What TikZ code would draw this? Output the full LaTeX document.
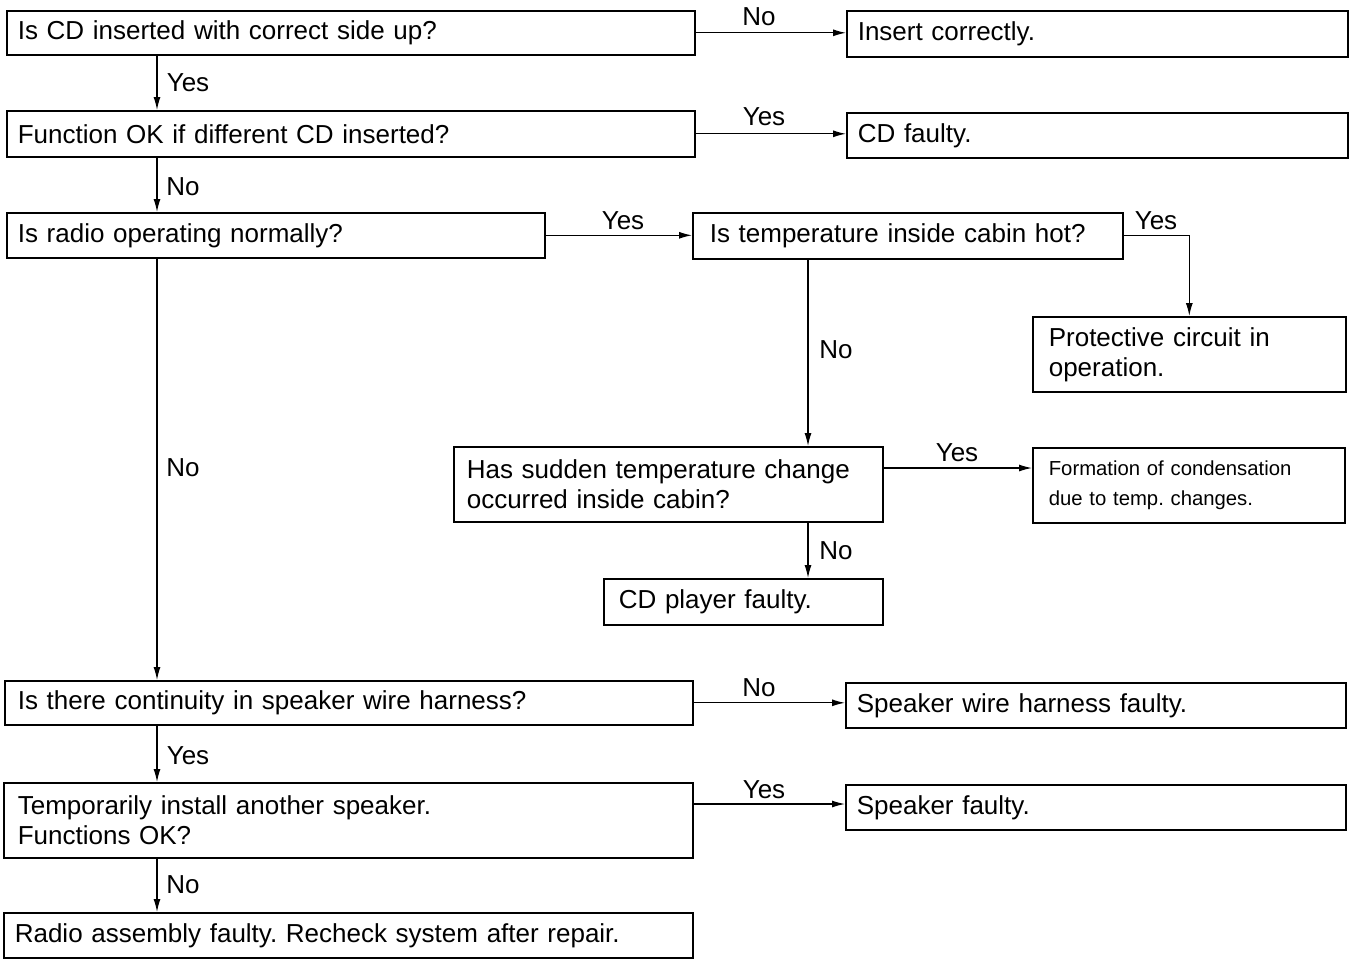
\documentclass[tikz,border=0pt]{standalone}
\usepackage{fontspec}
\setmainfont{Liberation Sans}
\usetikzlibrary{arrows.meta}
\frenchspacing
\begin{document}
\begin{tikzpicture}[x=1pt,y=-1pt,
  every node/.style={font=\fontsize{26}{30}\selectfont},
  bx/.style={draw, line width=1.6pt, anchor=north west, align=left, inner ysep=0pt, inner xsep=#1},
  bx/.default=11pt,
  lbl/.style={inner sep=0pt, anchor=center},
  arr/.style={line width=1.2pt, -{Latex[length=13pt,width=7pt]}},
  ln/.style={line width=1.2pt}]
\useasboundingbox (0,0) rectangle (1351,959);
\coordinate (cx) at (157,0);
\coordinate (cx2) at (808,0);
\coordinate (y5) at (0,468);
\coordinate (y7) at (0,804);
% boxes
\node[bx, text width=666pt, minimum height=44pt] (b1) at (6,10) {Is CD inserted with correct side up?};
\node[bx, text width=479pt, minimum height=46pt] (ins) at (846,10) {Insert correctly.};
\node[bx, text width=666pt, minimum height=46pt] (b2) at (6,110) {Function OK if different CD inserted?};
\node[bx, text width=479pt, minimum height=45pt] (cdf) at (846,112) {CD faulty.};
\node[bx, text width=516pt, minimum height=45pt] (b3) at (6,212) {Is radio operating normally?};
\node[bx=17pt, text width=396pt, minimum height=46pt] (b4) at (692,212) {Is temperature inside cabin hot?};
\node[bx=16pt, text width=281pt, minimum height=75pt] (prot) at (1032,316) {Protective circuit in\\operation.};
\node[bx=13pt, text width=403pt, minimum height=75pt] (b5) at (453,446) {Has sudden temperature change\\occurred inside cabin?};
\node[bx=16pt, text width=280pt, minimum height=75pt, font=\fontsize{20.3}{30}\selectfont] (form) at (1032,447) {Formation of condensation\\due to temp. changes.};
\node[bx=15pt, text width=249pt, minimum height=46pt] (cdp) at (603,578) {CD player faulty.};
\node[bx=13pt, text width=662pt, minimum height=44pt] (b6) at (4,680) {Is there continuity in speaker wire harness?};
\node[bx, text width=478pt, minimum height=45pt] (swh) at (845,682) {Speaker wire harness faulty.};
\node[bx=14pt, text width=661pt, minimum height=75pt] (b7) at (3,782) {Temporarily install another speaker.\\Functions OK?};
\node[bx, text width=478pt, minimum height=45pt] (spf) at (845,784) {Speaker faulty.};
\node[bx, text width=667pt, minimum height=45pt] (b8) at (3,912) {Radio assembly faulty. Recheck system after repair.};
% connectors
\draw[arr] (b1.east) -- (b1.east -| ins.west);
\draw[arr] (b1.south -| cx) -- (b2.north -| cx);
\draw[arr] (b2.east) -- (b2.east -| cdf.west);
\draw[arr] (b2.south -| cx) -- (b3.north -| cx);
\draw[arr] (b3.east) -- (b3.east -| b4.west);
\draw[arr] (b4.east) -| (prot.north);
\draw[arr] (b4.south -| cx2) -- (b5.north -| cx2);
\draw[arr] (b5.east |- y5) -- (form.west |- y5);
\draw[arr] (b5.south -| cx2) -- (cdp.north -| cx2);
\draw[arr] (b3.south -| cx) -- (b6.north -| cx);
\draw[arr] (b6.east) -- (b6.east -| swh.west);
\draw[arr] (b6.south -| cx) -- (b7.north -| cx);
\draw[arr] (b7.east |- y7) -- (spf.west |- y7);
\draw[arr] (b7.south -| cx) -- (b8.north -| cx);
% labels
\node[lbl] (l1) at (759,17) {No};
\node[lbl] (l2) at (188,83) {Yes};
\node[lbl] (l3) at (764,117) {Yes};
\node[lbl] (l4) at (183,187) {No};
\node[lbl] (l5) at (623,221) {Yes};
\node[lbl] (l6) at (1156,221) {Yes};
\node[lbl] (l7) at (836,350) {No};
\node[lbl] (l8) at (183,468) {No};
\node[lbl] (l9) at (957,453) {Yes};
\node[lbl] (l10) at (836,551) {No};
\node[lbl] (l11) at (759,688) {No};
\node[lbl] (l12) at (188,756) {Yes};
\node[lbl] (l13) at (764,790) {Yes};
\node[lbl] (l14) at (183,885) {No};
\end{tikzpicture}
\end{document}
